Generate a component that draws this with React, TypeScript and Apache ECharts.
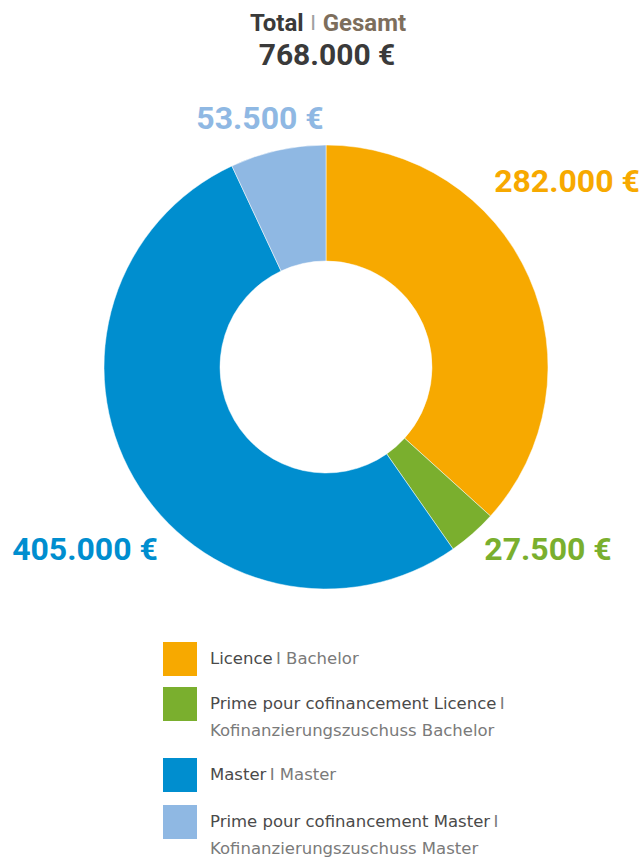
import React, { useEffect, useRef } from "react";
import * as echarts from "echarts";

const categories = [
  "Licence",
  "Prime pour cofinancement Licence",
  "Master",
  "Prime pour cofinancement Master",
];
const categoriesDe = [
  "Bachelor",
  "Kofinanzierungszuschuss Bachelor",
  "Master",
  "Kofinanzierungszuschuss Master",
];
const values = [282000, 27500, 405000, 53500];
const colors = ["#F7A900", "#7AAF2E", "#008ECF", "#8FB8E3"];
const total = 768000;

// label anchor positions (layout only)
const labelPos = [
  { x: 567, y: 181 },
  { x: 548, y: 549 },
  { x: 85, y: 549 },
  { x: 260, y: 118 },
];

function fmt(v: number): string {
  const s = Math.round(v).toString();
  return s.replace(/\B(?=(\d{3})+(?!\d))/g, ".") + " €";
}

const FONT = "Roboto, 'Noto Sans', sans-serif";
const LFONT = "'DejaVu Sans', 'Liberation Sans', sans-serif";

export default function App() {
  const ref = useRef<HTMLDivElement>(null);
  useEffect(() => {
    if (!ref.current) return;
    const chart = echarts.init(ref.current, null, { renderer: "svg" });

    const legendGraphics: any[] = [];
    const rowTops = [642, 687, 758, 805];
    const twoLine = [false, true, false, true];
    categories.forEach((c, i) => {
      legendGraphics.push({
        type: "rect",
        left: 163,
        top: rowTops[i],
        shape: { width: 34, height: 34 },
        style: { fill: colors[i] },
      });
      const txt = twoLine[i]
        ? `{a|${c}} {b|I}\n{b|${categoriesDe[i]}}`
        : `{a|${c}} {b|I ${categoriesDe[i]}}`;
      legendGraphics.push({
        type: "text",
        left: 210,
        top: rowTops[i] + 8,
        style: {
          text: txt,
          rich: {
            a: { fontFamily: LFONT, fontSize: 16.5, fill: "#4a4a4a", lineHeight: 27 },
            b: { fontFamily: LFONT, fontSize: 16.5, fill: "#7a7a7a", lineHeight: 27 },
          },
        },
      });
    });

    chart.setOption({
      animation: false,
      backgroundColor: "#ffffff",
      graphic: [
        {
          type: "text",
          x: 328,
          y: 23,
          style: {
            text: "{t|Total}  {s|I}  {g|Gesamt}",
            align: "center",
            verticalAlign: "middle",
            rich: {
              t: { fontFamily: FONT, fontSize: 24, fontWeight: "bold", fill: "#3a3a3a", lineHeight: 24 },
              s: { fontFamily: FONT, fontSize: 21, fill: "#a0a0a0", lineHeight: 24 },
              g: { fontFamily: FONT, fontSize: 24, fontWeight: "bold", fill: "#7d6e5c", lineHeight: 24 },
            },
          },
        },
        {
          type: "text",
          x: 327,
          y: 54,
          style: {
            text: fmt(total),
            align: "center",
            verticalAlign: "middle",
            fontFamily: FONT,
            fontSize: 30,
            fontWeight: "bold",
            fill: "#3a3a3a",
          },
        },
        ...legendGraphics,
      ],
      series: [
        {
          type: "pie",
          center: [326, 367],
          radius: [106, 222],
          startAngle: 90,
          clockwise: true,
          avoidLabelOverlap: false,
          silent: true,
          itemStyle: { borderColor: "#ffffff", borderWidth: 0.5 },
          label: {
            show: true,
            position: "outside",
            formatter: (p: any) => fmt(p.value),
            fontFamily: FONT,
            fontSize: 32,
            fontWeight: "bold",
          },
          labelLine: { show: false },
          labelLayout: (p: any) => ({
            x: labelPos[p.dataIndex].x,
            y: labelPos[p.dataIndex].y,
            align: "center",
            verticalAlign: "middle",
          }),
          data: values.map((v, i) => ({
            name: categories[i],
            value: v,
            itemStyle: { color: colors[i] },
            label: { color: colors[i] },
          })),
        },
      ],
    });
    return () => chart.dispose();
  }, []);
  return (
    <div
      ref={ref}
      style={{ position: "fixed", left: 0, top: 0, width: 641, height: 857 }}
    />
  );
}
